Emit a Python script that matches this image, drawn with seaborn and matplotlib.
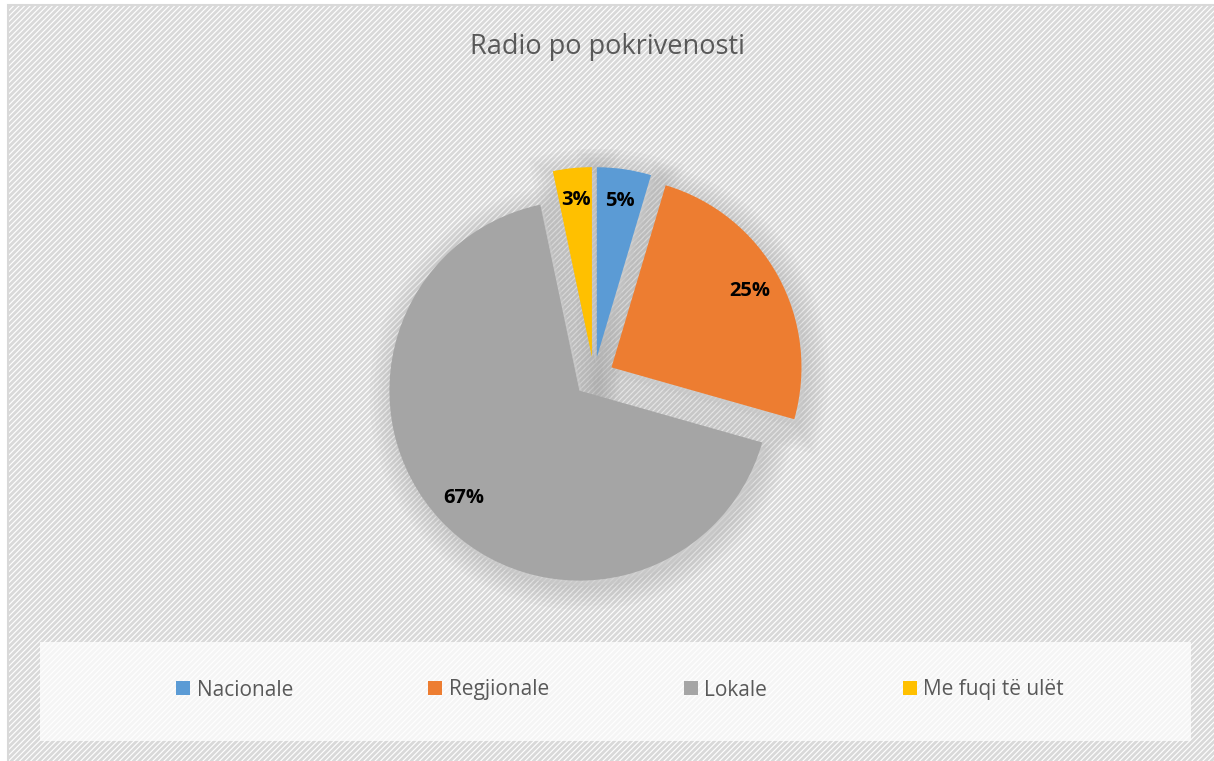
import seaborn as sns
import matplotlib.pyplot as plt
import matplotlib.patheffects as pe
from matplotlib.patches import Rectangle

# Radio coverage shares
categories = ['Nacionale', 'Regjionale', 'Lokale', 'Me fuqi të ulët']
shares = [4.6, 24.8, 67.3, 3.3]
colors = ['#5B9BD5', '#ED7D31', '#A5A5A5', '#FFC000']

sns.set_theme(style="white")
plt.rcParams['font.family'] = ['Open Sans', 'DejaVu Sans']
plt.rcParams['hatch.color'] = '#f5f5f5'
plt.rcParams['hatch.linewidth'] = 2.0

fig = plt.figure(figsize=(12.14, 7.61), dpi=100)
fig.patch.set_facecolor('white')

# striped chart area background with thin border
bg = Rectangle((8 / 1214, -0.01), 1.0, 1.01 - 5 / 761, transform=fig.transFigure,
               facecolor='white', edgecolor='#d9d9d9', hatch='//////', lw=1.5, zorder=-2)
fig.patches.append(bg)

# legend band
band = Rectangle((40 / 1214, (761 - 741) / 761), (1191 - 40) / 1214, 99 / 761,
                 transform=fig.transFigure, facecolor='white', alpha=0.75,
                 edgecolor='none', zorder=-1)
fig.patches.append(band)

ax = fig.add_axes([(594 - 380) / 1214, (384 - 380) / 761, 760 / 1214, 760 / 761])
ax.set_zorder(2)
ax.set_facecolor('none')
explode = [0.105] * len(shares)

# soft glow behind the slices
glow = [pe.Stroke(linewidth=w, foreground='#959595', alpha=0.05) for w in (34, 28, 22, 16, 10, 5)]
shadow, _ = ax.pie(shares, explode=explode, startangle=90, counterclock=False,
                   colors=['#cfcfcf'] * len(shares), center=(0.02, -0.03),
                   wedgeprops=dict(linewidth=0, alpha=0.4))
for w in shadow:
    w.set_path_effects(glow + [pe.Normal()])

wedges, texts, autotexts = ax.pie(
    shares, explode=explode, startangle=90, counterclock=False,
    colors=colors, autopct='%1.0f%%', pctdistance=0.83,
    wedgeprops=dict(linewidth=0),
    textprops=dict(fontsize=14.5, fontweight='bold', color='black'))

ax.set_xlim(-2, 2)
ax.set_ylim(-2, 2)
ax.set_aspect('equal')
ax.axis('off')

fig.text(0.5, 1 - 47 / 761, 'Radio po pokrivenosti', ha='center', va='center',
         fontsize=19.5, color='#595959')

leg = fig.legend(wedges, categories, loc='center', bbox_to_anchor=(620 / 1214, (761 - 690) / 761),
                 ncol=4, frameon=False, fontsize=15, labelcolor='#595959',
                 handlelength=0.67, handleheight=0.67, handletextpad=0.3, columnspacing=6.5)

fig.savefig('out.png', dpi=100)
